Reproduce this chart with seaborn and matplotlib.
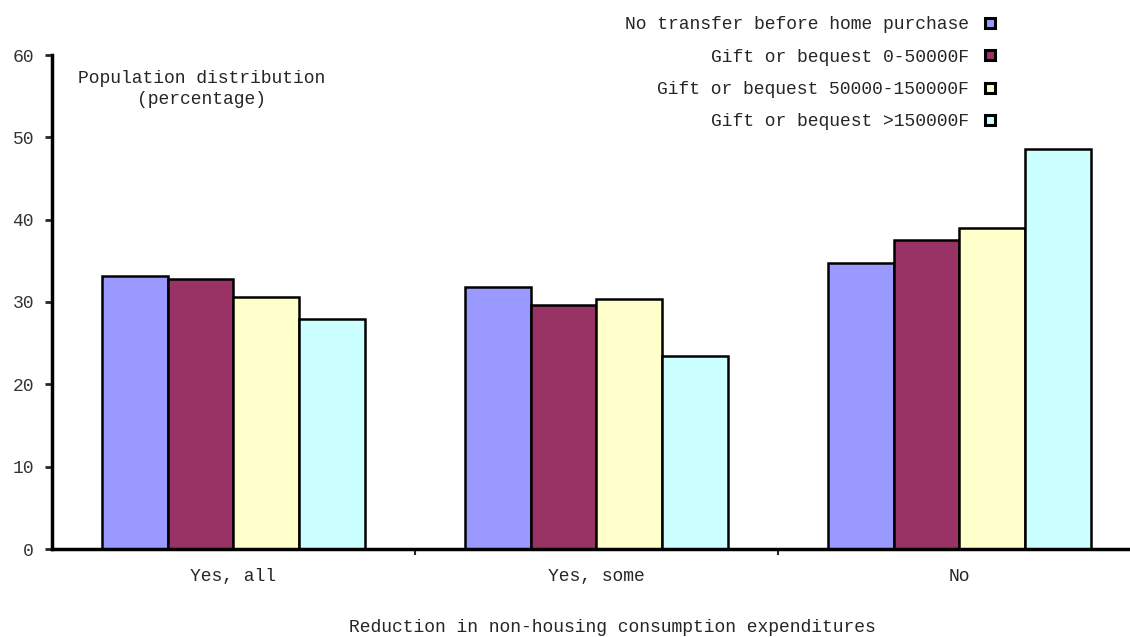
import matplotlib
matplotlib.use("Agg")
import matplotlib.pyplot as plt
from matplotlib.lines import Line2D
import seaborn as sns
import pandas as pd

categories = ["Yes, all", "Yes, some", "No"]
series_names = ["No transfer before home purchase", "Gift or bequest 0-50000F",
                "Gift or bequest 50000-150000F", "Gift or bequest >150000F"]
no_transfer = [33.2, 31.8, 34.7]
gift_0_50 = [32.8, 29.6, 37.5]
gift_50_150 = [30.6, 30.4, 39.0]
gift_150 = [27.9, 23.4, 48.6]
colors = ["#9999FF", "#993366", "#FFFFCC", "#CCFFFF"]

rows = []
for name, vals in zip(series_names, [no_transfer, gift_0_50, gift_50_150, gift_150]):
    for c, v in zip(categories, vals):
        rows.append({"cat": c, "series": name, "value": v})
df = pd.DataFrame(rows)

sns.set_style("white")
plt.rcParams["font.family"] = ["Liberation Mono", "DejaVu Sans Mono"]
FS = 13

fig = plt.figure(figsize=(11.3, 6.37), dpi=100)
ax = fig.add_axes([52/1130, (637-549)/637, 1 - 52/1130, 494/637])

sns.barplot(data=df, x="cat", y="value", hue="series", order=categories,
            hue_order=series_names, palette=colors, width=0.725, gap=0,
            edgecolor="black", linewidth=1.8, saturation=1, legend=False, ax=ax)

ax.set_xlim(-0.5, 2.47)
ax.set_ylim(0, 60)
ax.set_yticks([0, 10, 20, 30, 40, 50, 60])
ax.tick_params(axis="y", direction="out", length=5, width=2, labelsize=FS,
               labelcolor="#333333", pad=8, left=True)
ax.set_xticks([0, 1, 2])
ax.set_xticklabels(categories)
ax.tick_params(axis="x", which="major", length=0, labelsize=FS, pad=14)
ax.set_xticks([0.5, 1.5], minor=True)
ax.tick_params(axis="x", which="minor", direction="out", length=4, width=1.5, bottom=True)
for s in ["top", "right"]:
    ax.spines[s].set_visible(False)
for s in ["left", "bottom"]:
    ax.spines[s].set_linewidth(2.5)
    ax.spines[s].set_color("black")
ax.set_xlabel("")
ax.set_ylabel("")

fig.text(202/1130, 1 - 89/637, "Population distribution\n(percentage)",
         ha="center", va="center", fontsize=FS, linespacing=1.35)
fig.text(612/1130, 1 - 627/637, "Reduction in non-housing consumption expenditures",
         ha="center", va="center", fontsize=FS)

handles = [Line2D([0], [0], marker="s", linestyle="none", markersize=7.5,
                  markerfacecolor=c, markeredgecolor="black", markeredgewidth=2.2)
           for c in colors]
fig.legend(handles, series_names, loc="upper right", bbox_to_anchor=(1013/1130, 1),
           frameon=False, markerfirst=False, fontsize=FS, labelspacing=0.85,
           handlelength=0.8, handletextpad=0.75, alignment="right")

fig.savefig("out.png", dpi=100)
